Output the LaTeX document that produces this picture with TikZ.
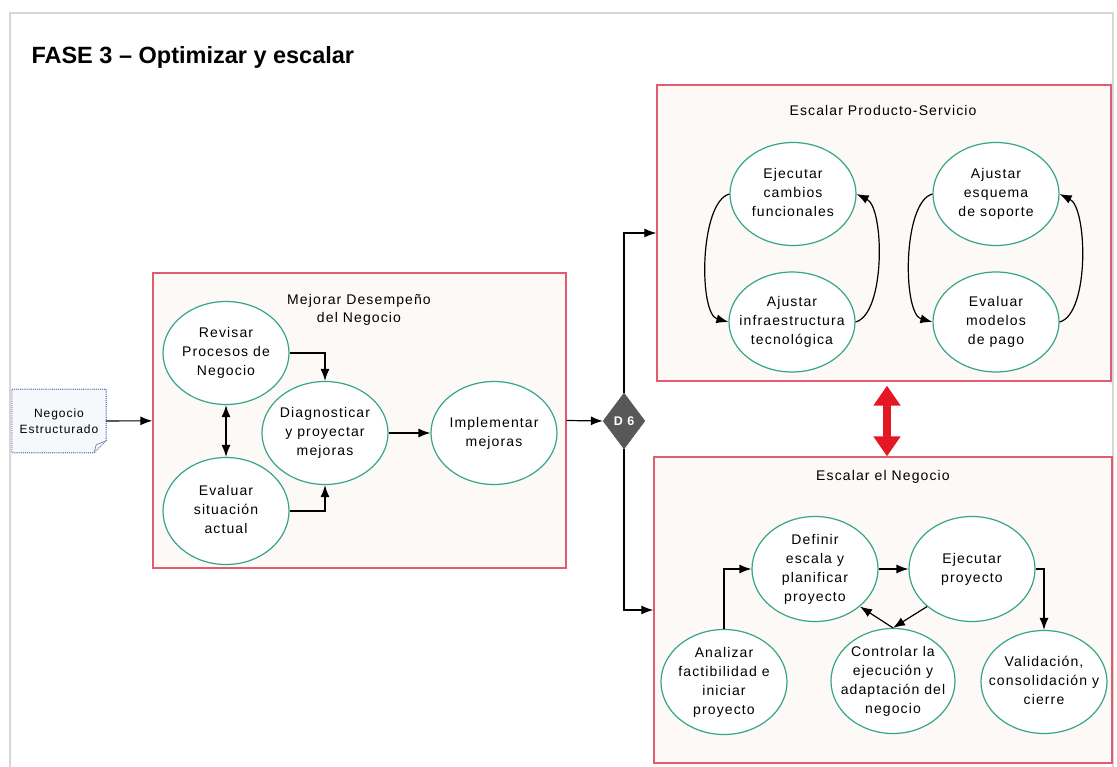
\documentclass[tikz,border=0pt]{standalone}
\usepackage{fontspec}
\setmainfont{Liberation Sans}
\newfontfamily\diagfont[LetterSpace=8]{Liberation Sans}
\usetikzlibrary{arrows.meta,shapes.geometric,positioning}
\definecolor{frameColor}{RGB}{215,215,215}
\definecolor{groupColor}{RGB}{226,92,112}
\definecolor{groupFill}{RGB}{253,249,247}
\definecolor{taskColor}{RGB}{52,165,138}
\definecolor{gateColor}{RGB}{88,88,88}
\definecolor{docColor}{RGB}{110,130,190}
\definecolor{linkColor}{RGB}{228,24,36}
% text of a task, kept out of the size of the ellipse
\newcommand{\tasktext}[1]{\makebox[0pt]{\smash{\raisebox{-0.25em}{\begin{tabular}{@{}c@{}}#1\end{tabular}}}}}
\tikzset{task/.style={ellipse, draw=taskColor, line width=1.2pt, fill=white, inner sep=0pt, minimum width=126pt, minimum height=103pt, font=\diagfont\fontsize{14}{19}\selectfont}}
\tikzset{group/.style={draw=groupColor, line width=1.3pt, fill=groupFill, inner sep=0pt}}
\tikzset{grouptitle/.style={align=center, font=\diagfont\fontsize{14}{18}\selectfont}}
\tikzset{flow/.style={line width=1.2pt, -{Latex[length=12pt,width=9pt]}}}

\begin{document}
\begin{tikzpicture}[x=1pt, y=-1pt]
\useasboundingbox (0,0) rectangle (1117,767);
% Frame and title
\draw[frameColor, line width=1.5pt] (10,767) -- (10,13) -- (1113,13) -- (1113,767);
\node (title) [anchor=west, font=\bfseries\fontsize{23.5}{28}\selectfont] at (28,57) {FASE 3 -- Optimizar y escalar};

% Nodes
\node (doc) [minimum width=94pt, minimum height=63pt] at (59,421) {};
\fill[docColor!6] (doc.north west) -- (doc.north east) -- ([yshift=12pt]doc.south east) -- ([xshift=-12pt]doc.south east) -- (doc.south west) -- cycle;
\draw[docColor, densely dotted, line width=1.1pt] (doc.north west) -- (doc.north east) -- ([yshift=12pt]doc.south east) -- ([xshift=-12pt]doc.south east) -- (doc.south west) -- cycle;
\draw[docColor, line width=0.7pt] ([yshift=12pt]doc.south east) -- ([xshift=-10pt,yshift=8pt]doc.south east) -- ([xshift=-12pt]doc.south east);
\node (doc_text) [align=center, font=\diagfont\fontsize{12}{16}\selectfont] at (doc) {Negocio\\ Estructurado};

\node (mejorar) [group, minimum width=413pt, minimum height=295pt] at (359.5,420.5) {};
\node (mejorar_title) [grouptitle] at (359,310) {Mejorar Desempeño\\ del Negocio};
\node (revisar) [task] at (226,353) {\tasktext{Revisar\\ Procesos de\\ Negocio}};
\node (evaluar) [task, minimum height=107pt] at (226,511) {\tasktext{Evaluar\\ situación\\ actual}};
\node (diagnosticar) [task] at (325,433) {\tasktext{Diagnosticar\\ y proyectar\\ mejoras}};
\node (implementar) [task] at (494,433) {\tasktext{Implementar\\ mejoras}};

\node (d6) [diamond, fill=gateColor, draw=gateColor, inner sep=0pt, minimum width=42pt, minimum height=56pt, text=white, font=\diagfont\bfseries\fontsize{12.5}{14}\selectfont] at (624,421) {D 6};

\node (producto) [group, minimum width=454pt, minimum height=296pt] at (884,233) {};
\node (producto_title) [grouptitle] at (883,110) {Escalar Producto-Servicio};
\node (cambios) [task] at (793,194) {\tasktext{Ejecutar\\ cambios\\ funcionales}};
\node (infra) [task, minimum height=100pt] at (792,322) {\tasktext{Ajustar\\ infraestructura\\ tecnológica}};
\node (soporte) [task] at (996,194) {\tasktext{Ajustar\\ esquema\\ de soporte}};
\node (pago) [task, minimum height=100pt] at (996,322) {\tasktext{Evaluar\\ modelos\\ de pago}};

\node (negocio) [group, minimum width=458pt, minimum height=306pt] at (883,610) {};
\node (negocio_title) [grouptitle] at (883,477) {Escalar el Negocio};
\node (definir) [task, minimum height=105pt] at (815,569) {\tasktext{Definir\\ escala y\\ planificar\\ proyecto}};
\node (ejecutar) [task, minimum height=105pt] at (972,569) {\tasktext{Ejecutar\\ proyecto}};
\node (analizar) [task, minimum height=105pt] at (724,682) {\tasktext{Analizar\\ factibilidad e\\ iniciar\\ proyecto}};
\node (controlar) [task, minimum width=124pt, minimum height=105pt] at (893,681) {\tasktext{Controlar la\\ ejecución y\\ adaptación del\\ negocio}};
\node (validacion) [task, minimum height=103pt] at (1044,682) {\tasktext{Validación,\\ consolidación y\\ cierre}};

% Connectors
\begin{scope}[flow]
\draw (doc) -- (mejorar);
\draw (revisar.east) -| (diagnosticar.north);
\draw (evaluar.east) -| (diagnosticar.south);
\draw [{Latex[length=12pt,width=9pt]}-{Latex[length=12pt,width=9pt]}] (revisar) -- (evaluar);
\draw (diagnosticar) -- (implementar);

\draw (mejorar.east) -- (d6.west);
\draw (d6.north) |- (producto.west);
\draw (d6.south) |- (negocio.west);

\draw (cambios.west) .. controls +(-30,8) and +(-30,-8) .. (infra.west);
\draw (infra.east) .. controls +(30,-8) and +(28,14) .. (cambios.east);
\draw (soporte.west) .. controls +(-30,8) and +(-30,-8) .. (pago.west);
\draw (pago.east) .. controls +(30,-8) and +(28,14) .. (soporte.east);

\draw (analizar.north) |- (definir.west);
\draw (definir) -- (ejecutar);
\draw (ejecutar.east) -| (validacion.north);
\draw (ejecutar.south west) -- (controlar.north);
\draw (controlar.north) -- (definir.south east);
\end{scope}

\draw [linkColor, line width=8pt, {Triangle[length=20pt,width=26pt]}-{Triangle[length=20pt,width=26pt]}, shorten <=4pt] ([xshift=3pt]producto.south) -- ([xshift=4pt]negocio.north);

\end{tikzpicture}
\end{document}
